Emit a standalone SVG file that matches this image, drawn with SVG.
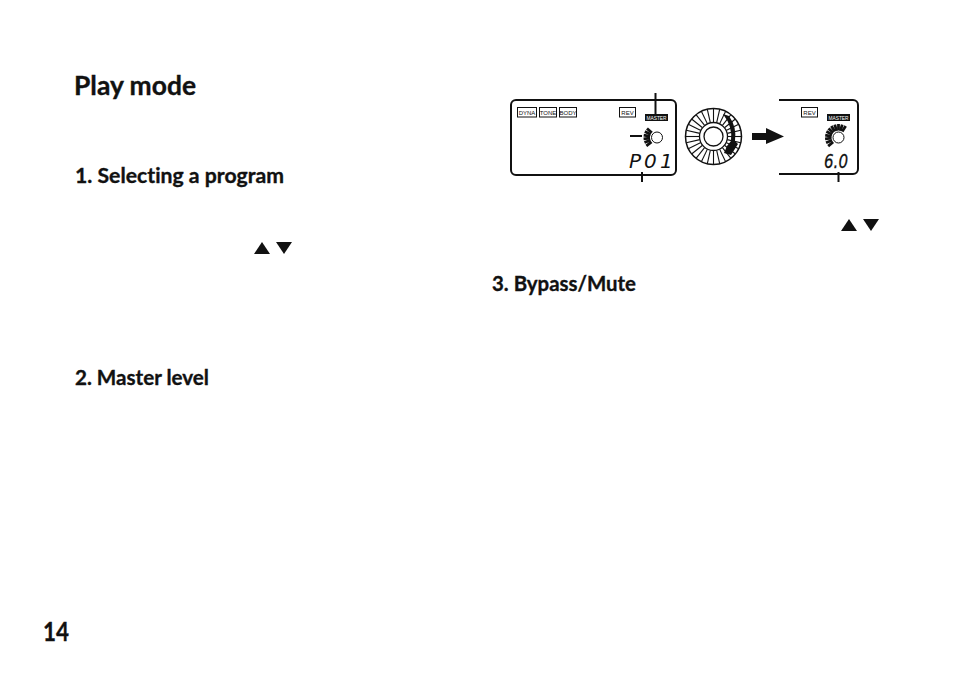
<svg xmlns="http://www.w3.org/2000/svg" width="954" height="679" viewBox="0 0 954 679">
<style>
.h{font-family:"Lato","Open Sans","Liberation Sans",sans-serif;font-weight:700;fill:#111;stroke:#111;stroke-width:.35;font-variant-ligatures:none}
.h1{font-size:27px}
.h2{font-size:21px}
.tag{font-family:"Liberation Sans",Arial,sans-serif;font-size:6px;fill:#111;text-anchor:middle}
.box{fill:#fff;stroke:#111;stroke-width:1}
.mtag{font-family:"Liberation Sans",Arial,sans-serif;font-size:4.8px;fill:#fff;text-anchor:middle}
.lcd{fill:none;stroke:#111;stroke-width:2}
.seg{font-family:"DejaVu Sans","Liberation Sans",sans-serif;font-style:italic;font-size:20px;fill:#111}
.tick{stroke:#111;stroke-width:2;fill:none}
.tri{fill:#111}
</style>
<defs>
<line id="spoke" x1="0" y1="-14" x2="0" y2="-28" stroke="#111" stroke-width="1.1"/>
<line id="mtick" x1="0" y1="-7" x2="0" y2="-13.500" stroke="#111" stroke-width="2.800"/>
</defs>
<rect width="954" height="679" fill="#fff"/>
<g id="headings">
<text class="h h1" x="74" y="95" textLength="122" lengthAdjust="spacingAndGlyphs">Play mode</text>
<text class="h h2" x="75" y="183" textLength="209" lengthAdjust="spacingAndGlyphs">1. Selecting a program</text>
<text class="h h2" x="75" y="385" textLength="134" lengthAdjust="spacingAndGlyphs">2. Master level</text>
<text class="h h2" x="492" y="291" textLength="144" lengthAdjust="spacingAndGlyphs">3. Bypass/Mute</text>
<text class="h h1" x="43" y="641" textLength="26" lengthAdjust="spacingAndGlyphs">14</text>
</g>
<g id="triangles">
<polygon class="tri" points="254,254 270,254 262,242"/>
<polygon class="tri" points="276,242 292,242 284,254"/>
<polygon class="tri" points="841,231 857,231 849,219"/>
<polygon class="tri" points="863,219 879,219 871,231"/>
</g>
<g id="lcd-left">
<rect class="lcd" x="511" y="100" width="165" height="75" rx="5"/>
<rect class="box" x="517.500" y="107.500" width="19" height="9.500"/><text class="tag" x="527" y="114.800">DYNA</text>
<rect class="box" x="539.500" y="107.500" width="17" height="9.500"/><text class="tag" x="548" y="114.800">TONE</text>
<rect class="box" x="559.500" y="107.500" width="17" height="9.500"/><text class="tag" x="568" y="114.800">BODY</text>
<rect class="box" x="619.500" y="107.500" width="16" height="9.500"/><text class="tag" x="627.500" y="114.800">REV</text>
<rect x="645" y="114" width="23" height="7" fill="#111"/><text class="mtag" x="656.500" y="119.700">MASTER</text>
<circle cx="657" cy="137.500" r="5.500" fill="#fff" stroke="#111" stroke-width="1"/>
<g transform="translate(657 137.500)">
<use href="#mtick" transform="rotate(-48)"/><use href="#mtick" transform="rotate(-64)"/><use href="#mtick" transform="rotate(-80)"/><use href="#mtick" transform="rotate(-96)"/><use href="#mtick" transform="rotate(-112)"/><use href="#mtick" transform="rotate(-128)"/>
</g>
<text class="seg" x="629 644 660" y="168">P01</text>
</g>
<g id="dial">
<circle cx="713.500" cy="136.500" r="28" fill="#fff" stroke="#111" stroke-width="1.500"/>
<g transform="translate(713.500 136.500)">
<use href="#spoke"/><use href="#spoke" transform="rotate(12.860)"/><use href="#spoke" transform="rotate(25.710)"/><use href="#spoke" transform="rotate(38.570)"/><use href="#spoke" transform="rotate(51.430)"/><use href="#spoke" transform="rotate(64.290)"/><use href="#spoke" transform="rotate(77.140)"/><use href="#spoke" transform="rotate(90)"/><use href="#spoke" transform="rotate(102.860)"/><use href="#spoke" transform="rotate(115.710)"/><use href="#spoke" transform="rotate(128.570)"/><use href="#spoke" transform="rotate(141.430)"/><use href="#spoke" transform="rotate(154.290)"/><use href="#spoke" transform="rotate(167.140)"/><use href="#spoke" transform="rotate(180)"/><use href="#spoke" transform="rotate(192.860)"/><use href="#spoke" transform="rotate(205.710)"/><use href="#spoke" transform="rotate(218.570)"/><use href="#spoke" transform="rotate(231.430)"/><use href="#spoke" transform="rotate(244.290)"/><use href="#spoke" transform="rotate(257.140)"/><use href="#spoke" transform="rotate(270)"/><use href="#spoke" transform="rotate(282.860)"/><use href="#spoke" transform="rotate(295.710)"/><use href="#spoke" transform="rotate(308.570)"/><use href="#spoke" transform="rotate(321.430)"/><use href="#spoke" transform="rotate(334.290)"/><use href="#spoke" transform="rotate(347.140)"/>
</g>
<circle cx="713.500" cy="136.500" r="14" fill="#fff" stroke="#111" stroke-width="1.300"/>
<circle cx="713.500" cy="136.500" r="9.500" fill="#fff" stroke="#111" stroke-width="1.300"/>
<path d="M723 114 L729 116 Q737 127 735 141 L738 144 L731 155 L724 153 L727 146 L731 141 Q733 127 723 114Z" fill="#111"/>
</g>
<g id="arrow">
<polygon points="752,133 766,133 766,128 784,136.500 766,144 766,140 752,140" fill="#111"/>
</g>
<g id="lcd-right">
<path class="lcd" d="M779 100H853a5 5 0 0 1 5 5V169a5 5 0 0 1 -5 5H779"/>
<rect class="box" x="801.500" y="107.500" width="16" height="9.500"/><text class="tag" x="809.500" y="114.800">REV</text>
<rect x="827" y="114" width="23" height="7" fill="#111"/><text class="mtag" x="838.500" y="119.700">MASTER</text>
<circle cx="838.500" cy="137.500" r="5.500" fill="#fff" stroke="#111" stroke-width="1"/>
<g transform="translate(838.500 137.500)">
<use href="#mtick" transform="rotate(-130)"/><use href="#mtick" transform="rotate(-113)"/><use href="#mtick" transform="rotate(-96)"/><use href="#mtick" transform="rotate(-80)"/><use href="#mtick" transform="rotate(-64)"/><use href="#mtick" transform="rotate(-48)"/><use href="#mtick" transform="rotate(-32)"/><use href="#mtick" transform="rotate(-16)"/><use href="#mtick" transform="rotate(0)"/><use href="#mtick" transform="rotate(16)"/><use href="#mtick" transform="rotate(32)"/>
</g>
<text class="seg" x="824" y="168" textLength="24" lengthAdjust="spacingAndGlyphs" stroke="#111" stroke-width=".3">6.0</text>
</g>
<g id="connectors">
<line class="tick" x1="655.500" y1="93" x2="655.500" y2="114"/>
<line class="tick" x1="630" y1="136" x2="642" y2="136"/>
<line class="tick" x1="642" y1="172" x2="642" y2="182"/>
<line class="tick" x1="838.500" y1="172" x2="838.500" y2="182"/>
</g>
</svg>
